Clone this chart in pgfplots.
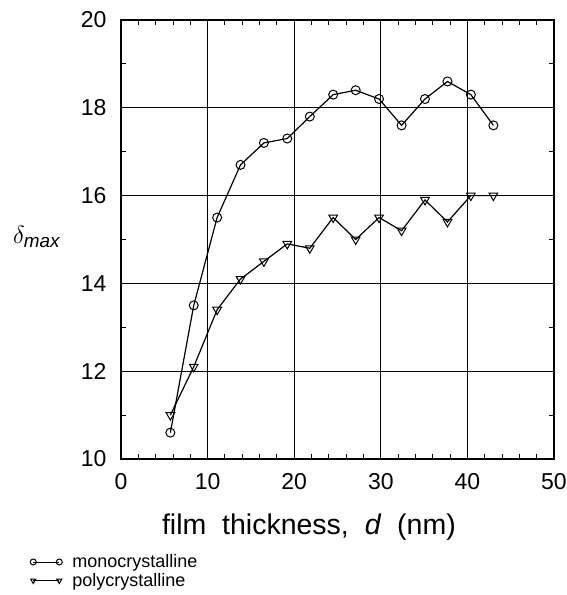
\documentclass[border=0pt]{standalone}
\usepackage{fontspec}
\setmainfont{Liberation Sans}
\usepackage{pgfplots}
\pgfplotsset{compat=1.18}

% secondary electron yield maximum vs. film thickness
\pgfplotstableread{
d     dmax
5.7   10.6
8.4   13.5
11.1  15.5
13.8  16.7
16.5  17.2
19.2  17.3
21.8  17.8
24.5  18.3
27.1  18.4
29.8  18.2
32.4  17.6
35.1  18.2
37.7  18.6
40.4  18.3
43.0  17.6
}\mono
\pgfplotstableread{
d     dmax
5.7   11.0
8.4   12.1
11.1  13.4
13.8  14.1
16.5  14.5
19.2  14.9
21.8  14.8
24.5  15.5
27.1  15.0
29.8  15.5
32.4  15.2
35.1  15.9
37.7  15.4
40.4  16.0
43.0  16.0
}\poly

\begin{document}
\begin{tikzpicture}
\useasboundingbox (-121pt,-136pt) rectangle (446pt,459pt);
\begin{axis}[
  scale only axis,
  width=433pt, height=439pt,
  xmin=0, xmax=50, ymin=10, ymax=20,
  xtick={0,10,...,50}, ytick={10,12,...,20},
  minor x tick num=4, minor y tick num=1,
  tick align=inside,
  major tick length=0pt, minor tick length=5pt,
  every tick/.style={black, line width=0.9pt},
  grid=major,
  major grid style={black, line width=1.1pt},
  axis line style={black, line width=1.5pt},
  /pgf/number format/assume math mode=true,
  ticklabel style={font=\fontsize{23}{25}\selectfont},
  xticklabel style={yshift=-11pt},
  yticklabel style={xshift=-11pt},
  xlabel={film\ \ thickness,\ \ \textit{d}\ \ (nm)},
  xlabel style={font=\fontsize{28.5}{30}\selectfont, anchor=base,
                at={(axis description cs:0.434,-0.172)}},
  ylabel={$\delta_{\mathit{max}}$},
  ylabel style={font=\fontsize{27}{28}\selectfont, rotate=-90, anchor=center,
                at={(axis description cs:-0.195,0.506)}},
  legend style={draw=none, fill=none, at={(axis description cs:-0.21,-0.213)},
                anchor=north west, font=\fontsize{18}{18}\selectfont,
                row sep=0pt, inner sep=0pt,
                legend cell align=left,
                /tikz/every odd column/.append style={column sep=8pt}},
  legend image code/.code={%
    \draw[#1, mark size=3pt, line width=0.9pt] plot coordinates {(0pt,0pt) (26pt,0pt)};},
  clip=false,
]
\addplot[black, line width=1.2pt, mark=o, mark size=4.5pt,
         mark options={fill=white, line width=1pt}]
  table[x=d, y=dmax] {\mono};
\addlegendentry{monocrystalline}
\addplot[black, line width=1.2pt, mark=triangle, mark size=5pt,
         mark options={fill=white, line width=1pt, rotate=180}]
  table[x=d, y=dmax] {\poly};
\addlegendentry{polycrystalline}
\end{axis}
\end{tikzpicture}
\end{document}
